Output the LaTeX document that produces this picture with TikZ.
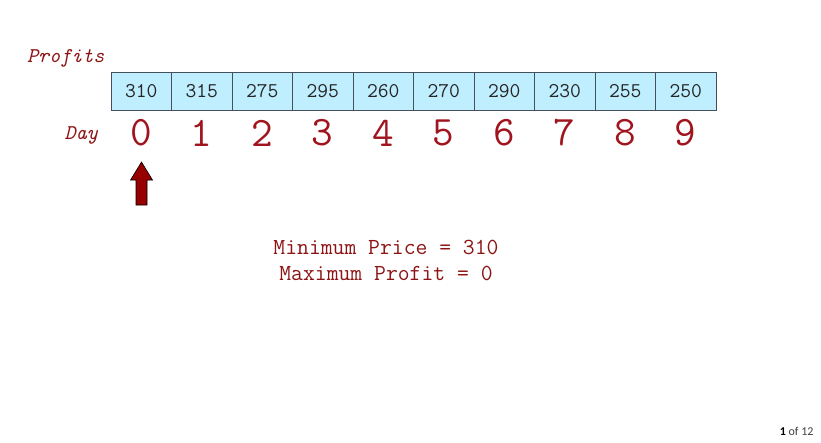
\documentclass[tikz,border=0pt]{standalone}
\usepackage{fontspec}
\newfontfamily\pagefont{Carlito}
\usepackage{tikz}
\usetikzlibrary{positioning}
\definecolor{cellfill}{RGB}{191,238,255}
\definecolor{cellline}{RGB}{70,80,90}
\definecolor{darkred}{RGB}{140,20,20}
\definecolor{numred}{RGB}{160,20,30}
\definecolor{arrowred}{RGB}{150,0,0}
\tikzset{
  cell/.style={draw=cellline, fill=cellfill, minimum width=60.5pt, minimum height=38pt,
    inner sep=0pt, text=black!85, font=\ttfamily\fontsize{21}{24}\selectfont},
  daynum/.style={text=numred, font=\ttfamily\fontsize{42}{46}\selectfont, inner sep=0pt},
  caption/.style={text=darkred, font=\ttfamily\fontsize{21}{24}\selectfont\itshape, inner sep=0pt},
  result/.style={text=darkred, font=\ttfamily\fontsize{23}{26}\selectfont, inner sep=0pt}
}
\begin{document}
\begin{tikzpicture}[x=1pt, y=-1pt]
                \useasboundingbox (0, 0) rectangle (821, 442);
                % Profits row
                \node[caption, anchor=west] (profits) at (27, 58) {Profits};
                \foreach \v [count=\i from 0] in {310,315,275,295,260,270,290,230,255,250} {
                  \node[cell] (c\i) at (141.25 + 60.5*\i, 91) {\v};
                  \node[daynum] (d\i) at (141.25 + 60.5*\i, 133) {\i};
                }
                \node[caption, anchor=east] (day) at (98, 135) {Day};
                
                % Pointer
                \fill[arrowred, draw=black, line width=0.6pt] (136, 205) -- (147, 205) -- (147, 180)
                  -- (152.5, 180) -- (141.5, 162) -- (130.5, 180) -- (136, 180) -- cycle;
                
                % Result
                \node[result] (minp) at (386, 247) {Minimum Price = 310};
                \node[result] (maxp) at (386, 273) {Maximum Profit = 0};
                
                \node[font=\pagefont\fontsize{12}{14}\selectfont, text=black!75, anchor=east]
                  (page) at (817, 431) {\textcolor{black}{\textbf{1}} of 12};
            \end{tikzpicture}
\end{document}
